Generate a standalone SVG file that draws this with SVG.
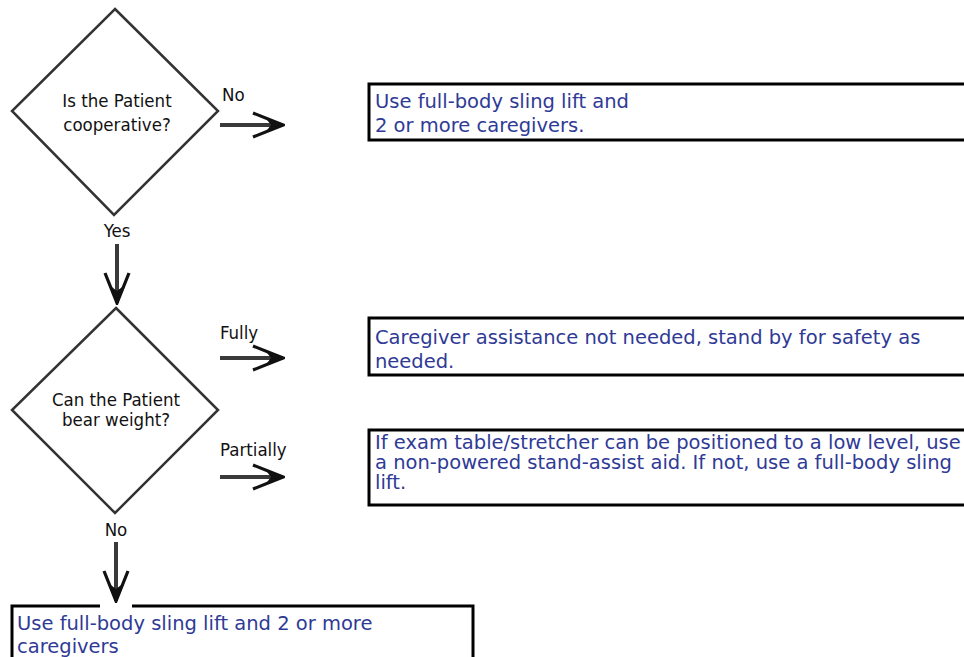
<svg xmlns="http://www.w3.org/2000/svg" width="964" height="657" viewBox="0 0 964 657">
  <style>
    .decision { fill: #fff; stroke: #333; stroke-width: 2.5; }
    .result { fill: #fff; stroke: #000; stroke-width: 3; }
    .q { font-family: "DejaVu Sans Condensed", "DejaVu Sans", sans-serif; font-size: 18.5px; fill: #111; text-anchor: middle; }
    .lbl { font-family: "DejaVu Sans Condensed", "DejaVu Sans", sans-serif; font-size: 18.5px; fill: #111; }
    .txt { font-family: "DejaVu Sans", Verdana, sans-serif; font-size: 19.5px; fill: #2f3a96; }
    .flow { stroke: #3a3a3a; stroke-width: 4; fill: none; marker-end: url(#head); }
  </style>
  <defs>
    <marker id="head" markerUnits="userSpaceOnUse" viewBox="0 0 34 30" markerWidth="34" markerHeight="30" refX="32" refY="15" orient="auto">
      <path d="M2,3 L32,15 L2,27" fill="none" stroke="#111" stroke-width="3.2" stroke-linejoin="miter"/>
      <path d="M15,8.5 L33,15 L15,21.5 L20,15 Z" fill="#111"/>
    </marker>
  </defs>

  <rect width="964" height="657" fill="#fff"/>

  <!-- Decision: cooperative? -->
  <g id="q-cooperative">
    <polygon class="decision" points="115,9 218,111 114,215 12,111"/>
    <text class="q" x="117" y="107">Is the Patient</text>
    <text class="q" x="117" y="131">cooperative?</text>
  </g>

  <!-- Decision: bear weight? -->
  <g id="q-weight">
    <polygon class="decision" points="116,308 218,410 115,513 12,410"/>
    <text class="q" x="116" y="406">Can the Patient</text>
    <text class="q" x="116" y="426">bear weight?</text>
  </g>

  <!-- Outcomes -->
  <g id="r-uncooperative">
    <rect class="result" x="369" y="84" width="610" height="56"/>
    <text class="txt" x="375" y="108">Use full-body sling lift and</text>
    <text class="txt" x="375" y="132">2 or more caregivers.</text>
  </g>

  <g id="r-fully">
    <rect class="result" x="369" y="318" width="610" height="57"/>
    <text class="txt" x="375" y="344">Caregiver assistance not needed, stand by for safety as</text>
    <text class="txt" x="375" y="368">needed.</text>
  </g>

  <g id="r-partially">
    <rect class="result" x="369" y="430" width="610" height="75"/>
    <text class="txt" x="375" y="449">If exam table/stretcher can be positioned to a low level, use</text>
    <text class="txt" x="375" y="469">a non-powered stand-assist aid. If not, use a full-body sling</text>
    <text class="txt" x="375" y="489">lift.</text>
  </g>

  <g id="r-no-weight">
    <rect class="result" x="12" y="606" width="461" height="70"/>
    <text class="txt" x="17" y="630">Use full-body sling lift and 2 or more</text>
    <text class="txt" x="17" y="653">caregivers</text>
  </g>

  <!-- Connectors and their labels -->
  <g id="connectors">
    <line class="flow" x1="220" y1="125" x2="283" y2="125"/>
    <text class="lbl" x="222" y="101">No</text>

    <line class="flow" x1="117" y1="244" x2="117" y2="303"/>
    <text class="lbl" x="117" y="237" text-anchor="middle">Yes</text>

    <line class="flow" x1="220" y1="358" x2="283" y2="358"/>
    <text class="lbl" x="220" y="339">Fully</text>

    <line class="flow" x1="220" y1="477" x2="283" y2="477"/>
    <text class="lbl" x="220" y="456">Partially</text>

    <rect x="100" y="598" width="32" height="10" fill="#fff"/>
    <line class="flow" x1="116" y1="542" x2="116" y2="601"/>
    <text class="lbl" x="116" y="536" text-anchor="middle">No</text>
  </g>
</svg>
